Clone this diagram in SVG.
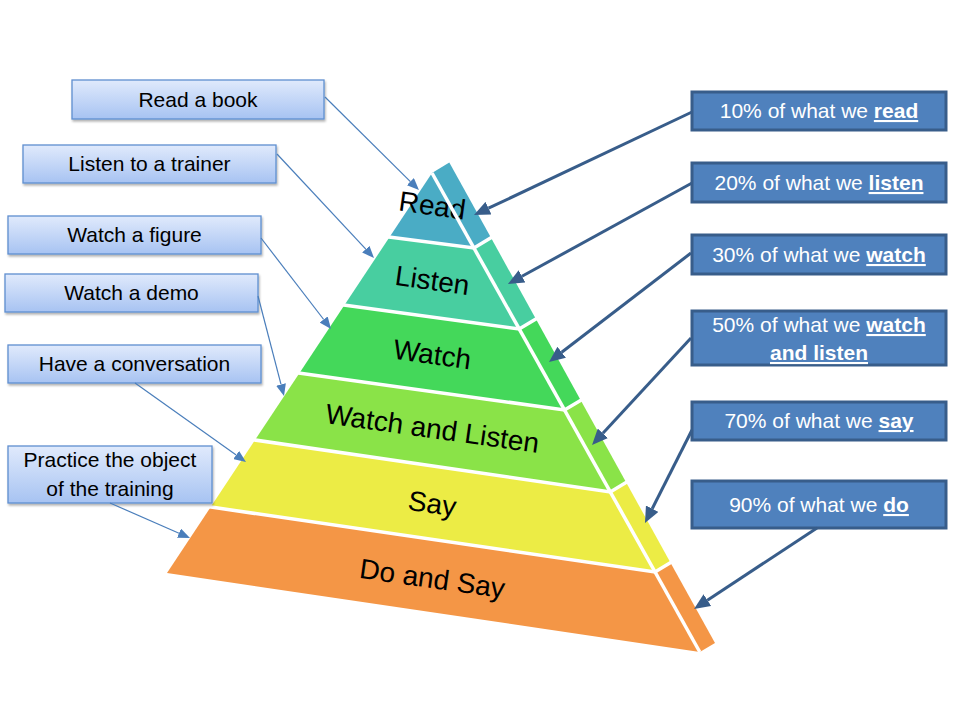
<svg xmlns="http://www.w3.org/2000/svg" width="960" height="720" viewBox="0 0 960 720">
<defs>
<linearGradient id="lg" x1="0" y1="0" x2="0" y2="1">
<stop offset="0" stop-color="#e0eafc"/>
<stop offset="1" stop-color="#a7c3f2"/>
</linearGradient>
<filter id="sh" x="-10%" y="-20%" width="120%" height="150%">
<feDropShadow dx="1" dy="2" stdDeviation="1.2" flood-color="#000" flood-opacity="0.3"/>
</filter>
<marker id="hl" markerUnits="userSpaceOnUse" markerWidth="12" markerHeight="10" refX="0" refY="5" orient="auto">
<path d="M0,0 L12,5 L0,10 z" fill="#4a7ebb"/>
</marker>
<marker id="hr" markerUnits="userSpaceOnUse" markerWidth="16" markerHeight="14" refX="0" refY="7" orient="auto">
<path d="M0,0 L16,7 L0,14 z" fill="#385d8a"/>
</marker>
</defs>
<style>
.lb{fill:url(#lg);stroke:#5f8fd0;stroke-width:1.3;filter:url(#sh)}
.rb{fill:#4f81bd;stroke:#385d8a;stroke-width:3}
.lt{font-family:"Liberation Sans",Arial,sans-serif;font-size:21px;fill:#000;text-anchor:middle}
.rt{font-family:"Liberation Sans",Arial,sans-serif;font-size:21px;fill:#fff;text-anchor:middle}
.b{font-weight:bold;text-decoration:underline}
.pt{font-family:"Liberation Sans",Arial,sans-serif;font-size:28px;fill:#000;text-anchor:middle}
.cl{fill:none;stroke:#4a7ebb;stroke-width:1.2;marker-end:url(#hl)}
.cr{fill:none;stroke:#385d8a;stroke-width:3;marker-end:url(#hr)}
.wl{fill:none;stroke:#fff;stroke-width:3.5}
</style>

<g id="pyramid">
<g id="band-read">
<polygon points="432,173 474,248 389.6,237" fill="#4aacc5"/>
<polygon points="432,173 449.3,162.6 491,237.8 474,248" fill="#4aacc5"/>
<text class="pt" transform="translate(431,215) rotate(8)">Read</text>
</g>
<g id="band-listen">
<polygon points="389.6,237 474,248 519.2,329 344.5,305" fill="#48cea0"/>
<polygon points="474,248 491,237.8 535.9,319 519.2,329" fill="#48cea0"/>
<text class="pt" transform="translate(431,290) rotate(8)">Listen</text>
</g>
<g id="band-watch">
<polygon points="344.5,305 519.2,329 564.5,410 299.5,373" fill="#44d85a"/>
<polygon points="519.2,329 535.9,319 580.7,400.3 564.5,410" fill="#44d85a"/>
<text class="pt" transform="translate(431,364) rotate(8)">Watch</text>
</g>
<g id="band-watch-listen">
<polygon points="299.5,373 564.5,410 610.3,492 255,440" fill="#8ae348"/>
<polygon points="564.5,410 580.7,400.3 626.2,482.5 610.3,492" fill="#8ae348"/>
<text class="pt" transform="translate(431,438) rotate(8)">Watch and Listen</text>
</g>
<g id="band-say">
<polygon points="255,440 610.3,492 655,572 210.7,507" fill="#ecec45"/>
<polygon points="610.3,492 626.2,482.5 670.5,562.7 655,572" fill="#ecec45"/>
<text class="pt" transform="translate(431,513) rotate(8)">Say</text>
</g>
<g id="band-do-say">
<polygon points="210.7,507 655,572 699.8,652 167,573" fill="#f49646"/>
<polygon points="655,572 670.5,562.7 715,643 699.8,652" fill="#f49646"/>
<text class="pt" transform="translate(431,588) rotate(8)">Do and Say</text>
</g>
<g id="pyramid-gaps">
<line class="wl" x1="432" y1="173" x2="699.8" y2="652"/>
<polyline class="wl" points="385,236.4 474,248 493,236.6"/>
<polyline class="wl" points="340,304.4 519.2,329 538,317.8"/>
<polyline class="wl" points="295,372.4 564.5,410 583,399"/>
<polyline class="wl" points="250,439.3 610.3,492 628.5,481.1"/>
<polyline class="wl" points="206,506.3 655,572 672.8,561.3"/>
</g>
</g>

<g id="left-nodes">
<g id="n-read-book"><rect class="lb" x="72" y="80" width="252" height="39"/><text class="lt" x="198" y="107">Read a book</text></g>
<g id="n-listen-trainer"><rect class="lb" x="23" y="145" width="253" height="38"/><text class="lt" x="149.5" y="171">Listen to a trainer</text></g>
<g id="n-watch-figure"><rect class="lb" x="8" y="216" width="253" height="38"/><text class="lt" x="134.5" y="242">Watch a figure</text></g>
<g id="n-watch-demo"><rect class="lb" x="5" y="274" width="253" height="38"/><text class="lt" x="131.5" y="300">Watch a demo</text></g>
<g id="n-conversation"><rect class="lb" x="8" y="345" width="253" height="38"/><text class="lt" x="134.5" y="371">Have a conversation</text></g>
<g id="n-practice"><rect class="lb" x="8" y="446" width="204" height="57"/><text class="lt" x="110" y="467">Practice the object</text><text class="lt" x="110" y="496">of the training</text></g>
</g>

<g id="right-nodes">
<g id="n-10"><rect class="rb" x="692" y="92" width="254" height="38"/><text class="rt" x="819" y="118">10% of what we <tspan class="b">read</tspan></text></g>
<g id="n-20"><rect class="rb" x="692" y="163" width="254" height="39"/><text class="rt" x="819" y="190">20% of what we <tspan class="b">listen</tspan></text></g>
<g id="n-30"><rect class="rb" x="692" y="235" width="254" height="39"/><text class="rt" x="819" y="262">30% of what we <tspan class="b">watch</tspan></text></g>
<g id="n-50"><rect class="rb" x="692" y="311" width="254" height="54"/><text class="rt" x="819" y="332">50% of what we <tspan class="b">watch</tspan></text><text class="rt" x="819" y="360"><tspan class="b">and listen</tspan></text></g>
<g id="n-70"><rect class="rb" x="692" y="402" width="254" height="38"/><text class="rt" x="819" y="428">70% of what we <tspan class="b">say</tspan></text></g>
<g id="n-90"><rect class="rb" x="692" y="481" width="254" height="47"/><text class="rt" x="819" y="512">90% of what we <tspan class="b">do</tspan></text></g>
</g>

<g id="connectors">
<line class="cl" x1="325" y1="97" x2="410.4" y2="181.6"/>
<line class="cl" x1="277" y1="154" x2="365.8" y2="249.2"/>
<line class="cl" x1="261" y1="238" x2="323.7" y2="319.5"/>
<line class="cl" x1="258" y1="296" x2="281" y2="384.4"/>
<line class="cl" x1="135" y1="383" x2="236.2" y2="455"/>
<line class="cl" x1="110" y1="503" x2="179" y2="533.2"/>
<line class="cr" x1="692" y1="112" x2="488.5" y2="208.2"/>
<line class="cr" x1="692" y1="183" x2="522" y2="276.3"/>
<line class="cr" x1="691" y1="253" x2="561.7" y2="352.3"/>
<line class="cr" x1="691" y1="338" x2="602.9" y2="433.3"/>
<line class="cr" x1="692" y1="430" x2="652.2" y2="508.7"/>
<line class="cr" x1="817" y1="528" x2="707.4" y2="600.2"/>
</g>
</svg>
